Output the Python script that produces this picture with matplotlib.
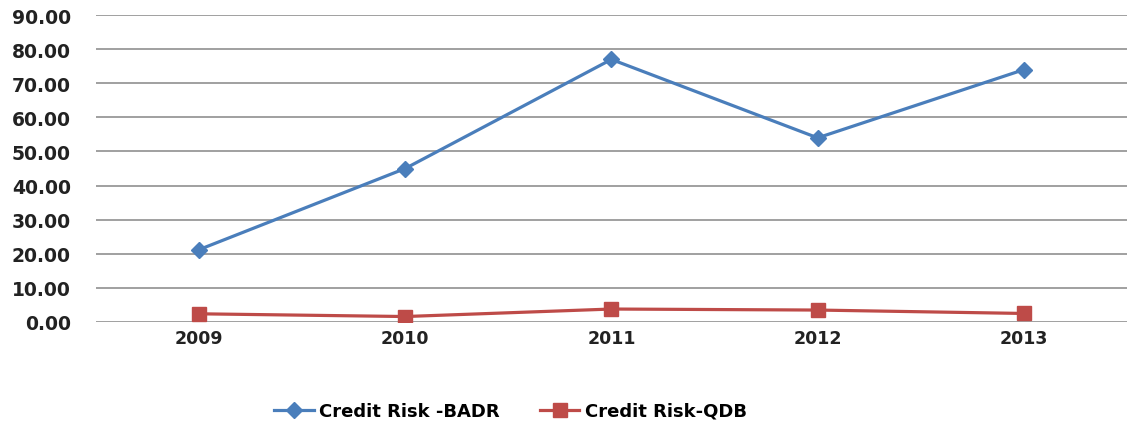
import matplotlib.pyplot as plt

years = ['2009', '2010', '2011', '2012', '2013']
badr = [21.2, 45.0, 77.0, 54.0, 74.0]
qdb = [2.4, 1.6, 3.8, 3.5, 2.5]

fig = plt.figure(figsize=(11.27, 4.35), dpi=100)
ax = fig.add_axes([0.085, 0.2575, 0.915, 0.7055])

x = range(len(years))
ax.plot(x, badr, color='#4A7EBB', linewidth=2.3, marker='D', markersize=8,
        label='Credit Risk -BADR')
ax.plot(x, qdb, color='#BE4B48', linewidth=2.3, marker='s', markersize=10,
        label='Credit Risk-QDB')

ax.set_xlim(-0.5, len(years) - 0.5)
ax.set_ylim(0, 90)
ax.set_yticks(range(0, 91, 10))
ax.set_yticklabels(['%.2f' % v for v in range(0, 91, 10)])
ax.set_xticks(list(x))
ax.set_xticklabels(years)
ax.grid(axis='y', color='#A0A0A0', linewidth=1.4)
ax.set_axisbelow(True)
for s in ['top', 'right', 'left', 'bottom']:
    ax.spines[s].set_visible(False)
ax.tick_params(length=0, colors='#222222')
ax.tick_params(axis='y', pad=18, labelsize=13.5)
ax.tick_params(axis='x', pad=5, labelsize=12.5)
for lbl in ax.get_xticklabels() + ax.get_yticklabels():
    lbl.set_fontweight('bold')

fig.legend(loc='center', bbox_to_anchor=(0.453, 0.053), ncol=2, frameon=False,
           prop={'weight': 'bold', 'size': 13}, handlelength=2.2,
           columnspacing=2.2, handletextpad=0.3)

fig.savefig('out.png', dpi=100)
